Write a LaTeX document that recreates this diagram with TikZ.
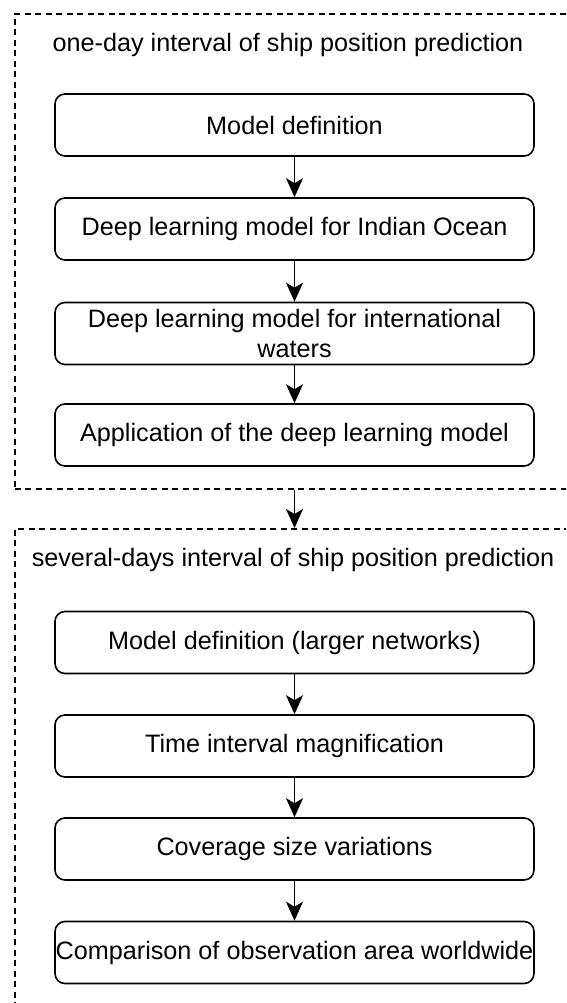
\documentclass[tikz,border=0pt]{standalone}
\usepackage{fontspec}
\setmainfont{Liberation Sans}
\usetikzlibrary{arrows.meta}
\begin{document}
\begin{tikzpicture}[x=1pt,y=-1pt,
  stepbox/.style={draw, line width=1.6pt, rounded corners=10pt, minimum width=479pt, minimum height=62pt, inner sep=0pt, align=center, font=\fontsize{25.2}{30}\selectfont},
  groupbox/.style={draw, line width=1.6pt, dash pattern=on 6pt off 4.5pt},
  grouptitle/.style={inner sep=0pt, font=\fontsize{25.2}{30}\selectfont},
  arr/.style={line width=1.6pt, -{Stealth[length=19pt, width=17pt, inset=5pt]}}]
\useasboundingbox (0,0) rectangle (566,1003);
\clip (0,0) rectangle (566,1003);
% group frames
\node[groupbox, anchor=north west, minimum width=600pt, minimum height=475pt, inner sep=0pt] (g1) at (14,13) {};
\node[groupbox, anchor=north west, minimum width=600pt, minimum height=500pt, inner sep=0pt] (g2) at (14,528) {};
\node[grouptitle] (t1) at (288,45) {one-day interval of ship position prediction};
\node[grouptitle] (t2) at (293,560) {several-days interval of ship position prediction};
% steps
\node[stepbox] (a) at (294.5,125) {Model definition};
\node[stepbox] (b) at (294.5,229) {Deep learning model for Indian Ocean};
\node[stepbox] (c) at (294.5,333.5) {Deep learning model for international\\waters};
\node[stepbox] (d) at (294.5,435) {Application of the deep learning model};
\node[stepbox] (e) at (294.5,642.5) {Model definition (larger networks)};
\node[stepbox] (f) at (294.5,746) {Time interval magnification};
\node[stepbox] (g) at (294.5,849) {Coverage size variations};
\node[stepbox] (h) at (294.5,952.5) {Comparison of observation area worldwide};
% connectors
\draw[arr] (a) -- (b);
\draw[arr] (b) -- (c);
\draw[arr] (c) -- (d);
\draw[arr] (d |- g1.south) -- (d |- g2.north);
\draw[arr] (e) -- (f);
\draw[arr] (f) -- (g);
\draw[arr] (g) -- (h);
\end{tikzpicture}
\end{document}
